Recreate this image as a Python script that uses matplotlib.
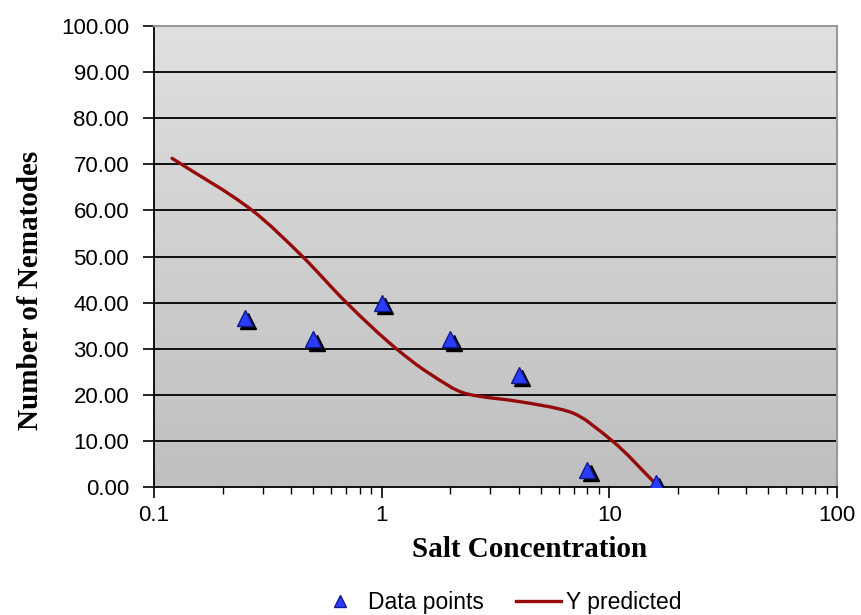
import numpy as np
import matplotlib
matplotlib.use("Agg")
import matplotlib.pyplot as plt
import matplotlib.transforms as mtransforms
from matplotlib.lines import Line2D
from matplotlib.path import Path
from matplotlib.patches import PathPatch
from matplotlib.ticker import FixedLocator, LogLocator, NullFormatter

# measured data points
salt = [0.25, 0.5, 1, 2, 4, 8, 16]
nematodes = [36.7, 32.0, 40.0, 32.0, 24.3, 3.7, 0.9]

# predicted curve
pred_x = [0.12, 0.27, 0.449, 0.70, 1.16, 1.6, 2.37, 4.06, 6.7, 10.3, 16.2]
pred_y = [71.3, 60.0, 50.0, 40.0, 30.0, 24.8, 20.2, 18.5, 16.3, 10.0, 0.4]

x_ticks = [0.1, 1, 10, 100]
x_tick_labels = ["0.1", "1", "10", "100"]
y_ticks = list(range(0, 101, 10))

tick_font = "Liberation Sans"
label_font = "Liberation Serif"
curve_color = "#960a0a"
tri_face = "#2b3cff"
tri_edge = "#101a8c"


def smooth_path(xs, ys):
    # smoothed line as bezier segments through the points, monotone tangents (log x)
    lx = np.log10(xs)
    y = np.asarray(ys, dtype=float)
    h = np.diff(lx)
    d = np.diff(y) / h
    m = np.empty_like(y)
    m[0], m[-1] = d[0], d[-1]
    for k in range(1, len(y) - 1):
        if d[k - 1] * d[k] <= 0:
            m[k] = 0.0
        else:
            w1 = 2 * h[k] + h[k - 1]
            w2 = h[k] + 2 * h[k - 1]
            m[k] = (w1 + w2) / (w1 / d[k - 1] + w2 / d[k])
    verts = [(xs[0], y[0])]
    codes = [Path.MOVETO]
    for i in range(len(y) - 1):
        c1 = (10 ** (lx[i] + h[i] / 3), y[i] + m[i] * h[i] / 3)
        c2 = (10 ** (lx[i + 1] - h[i] / 3), y[i + 1] - m[i + 1] * h[i] / 3)
        verts += [c1, c2, (xs[i + 1], y[i + 1])]
        codes += [Path.CURVE4] * 3
    return Path(verts, codes)


fig = plt.figure(figsize=(8.61, 6.15), dpi=100)
ax = fig.add_axes([0.1789, 0.2081, 0.7932, 0.7496])

# gradient background
grad = np.linspace(0, 1, 256).reshape(-1, 1)
ax.imshow(grad, extent=[0, 1, 0, 1], transform=ax.transAxes, aspect="auto",
          cmap=matplotlib.colors.LinearSegmentedColormap.from_list(
              "g", ["#e0e0e0", "#bfbfbf"]), zorder=0, origin="upper")

ax.set_xscale("log")
ax.set_xlim(0.1, 100)
ax.set_ylim(0, 100)

for yv in y_ticks[1:-1]:
    ax.axhline(yv, color="black", lw=1.3, zorder=1)

ax.add_patch(PathPatch(smooth_path(pred_x, pred_y), facecolor="none",
                       edgecolor=curve_color, lw=2.4, capstyle="round", zorder=3))

shadow = mtransforms.offset_copy(ax.transData, fig=fig, x=2.5, y=-2.5, units="points")
ax.plot(salt, nematodes, linestyle="none", marker="^", ms=11, color="black",
        transform=shadow, zorder=4)
ax.plot(salt, nematodes, linestyle="none", marker="^", ms=11,
        markerfacecolor=tri_face, markeredgecolor=tri_edge, mew=1.0, zorder=5)

ax.xaxis.set_major_locator(FixedLocator(x_ticks))
ax.set_xticklabels(x_tick_labels)
ax.xaxis.set_minor_locator(LogLocator(base=10, subs=np.arange(2, 10)))
ax.xaxis.set_minor_formatter(NullFormatter())
ax.set_yticks(y_ticks)
ax.set_yticklabels([f"{v:.2f}" for v in y_ticks])

ax.tick_params(axis="both", which="major", length=8, width=1.2, direction="out",
               labelsize=16, colors="black")
ax.tick_params(axis="x", which="minor", length=5, width=1.0, direction="out")
ax.tick_params(axis="x", which="major", pad=5)
ax.tick_params(axis="y", which="major", pad=10)
for lab in ax.get_xticklabels() + ax.get_yticklabels():
    lab.set_family(tick_font)

for side in ["top", "right"]:
    ax.spines[side].set_color("#999999")
    ax.spines[side].set_linewidth(1.5)
for side in ["left", "bottom"]:
    ax.spines[side].set_color("black")
    ax.spines[side].set_linewidth(1.3)

fig.text(0.6155, 0.106, "Salt Concentration", ha="center", va="center",
         family=label_font, weight="bold", fontsize=21)
fig.text(0.035, 0.528, "Number of Nematodes", ha="center", va="center",
         rotation=90, family=label_font, weight="bold", fontsize=21)

handles = [
    Line2D([], [], linestyle="none", marker="^", ms=8, markerfacecolor=tri_face,
           markeredgecolor=tri_edge),
    Line2D([], [], color=curve_color, lw=2.4),
]
fig.legend(handles, ["Data points", "Y predicted"], loc="center",
           bbox_to_anchor=(0.58, 0.02), ncol=2, frameon=False,
           prop={"family": tick_font, "size": 16.5}, handlelength=2.0,
           handletextpad=0.2, columnspacing=1.4)

fig.savefig("out.png", dpi=100)
